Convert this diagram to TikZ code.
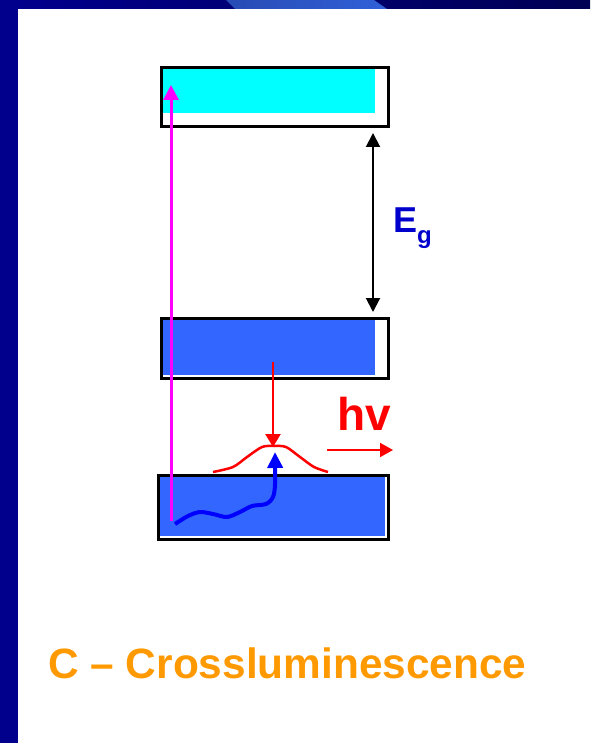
\documentclass[tikz,border=0pt]{standalone}
\usepackage{fontspec}
\setmainfont{Liberation Sans}
\usetikzlibrary{arrows.meta}
\definecolor{slidenavy}{RGB}{0,0,140}
\definecolor{bandblue}{RGB}{51,102,255}
\definecolor{bandcyan}{RGB}{0,255,255}
\definecolor{pumpmagenta}{RGB}{255,0,255}
\definecolor{egblue}{RGB}{0,0,204}
\definecolor{titleorange}{RGB}{255,153,0}
\tikzset{
  bandbox/.style={draw=black,line width=3pt,inner sep=0pt,anchor=north west},
  tipA/.style={-{Triangle[length=15pt,width=15pt]}}
}
\begin{document}
\begin{tikzpicture}[x=1pt,y=-1pt]
    \useasboundingbox (0,0) rectangle (590,743);

    % Slide frame
    \fill[slidenavy] (0,0) rectangle (18,743);
    \shade[left color=slidenavy,right color=slidenavy!60!black] (18,0) rectangle (590,9);
    \shade[left color={rgb,255:red,40;green,75;blue,180},right color={rgb,255:red,48;green,96;blue,216}]
        (226,0) -- (374,0) -- (387,9) -- (235,9) -- cycle;

    % Band fillings
    \fill[bandcyan] (161,68) rectangle (375,113);
    \fill[bandblue] (161,318) rectangle (375,375);
    \fill[bandblue] (158,475) rectangle (385,536);

    % Conduction band
    \node[bandbox,minimum width=227pt,minimum height=59pt] (cb) at (159.5,66.5) {};
    % Valence band
    \node[bandbox,minimum width=227pt,minimum height=60pt] (vb) at (159.5,316.5) {};
    % Core band
    \node[bandbox,minimum width=230pt,minimum height=64pt] (core) at (156.5,473.5) {};

    % Band gap
    \coordinate (gtop) at (373,133);
    \coordinate (gbot) at (373,312);
    \draw[line width=2pt,{Triangle[length=14pt,width=14pt]}-{Triangle[length=14pt,width=14pt]}] (gtop) -- (gbot);
    \node[anchor=base west,inner sep=0pt,text=egblue,font=\fontsize{36}{36}\selectfont\bfseries] (eg) at (393,232)
        {E\raisebox{-11pt}{\fontsize{24}{24}\selectfont g}};

    % Excitation of core hole
    \coordinate (magbot) at (171,521);
    \coordinate (magtop) at (171,85);
    \draw[pumpmagenta,line width=3pt,tipA] (magbot) -- (magtop);

    % Hole relaxation
    \coordinate (holestart) at (175,524);
    \coordinate (holeend) at (275,452);
    \draw[blue,line width=4pt,-{Triangle[length=16pt,width=15pt]}] plot[smooth] coordinates
        {(holestart) (188,516) (200,512) (213,514) (227,517) (240,512) (252,506) (266,504) (273,497) (275,484) (holeend)};

    % Radiative transition
    \coordinate (vbtop) at (273,362);
    \coordinate (vbdrop) at (273,447);
    \draw[red,line width=2.5pt,-{Triangle[length=13pt,width=15pt]}] (vbtop) -- (vbdrop);
    \draw[red,line width=2.5pt] plot[smooth] coordinates
        {(213,472) (233,467) (247,457) (262,447) (274,446) (286,447) (300,457) (314,467) (328,472)};

    % Emitted photon
    \coordinate (photonA) at (327,450);
    \coordinate (photonB) at (393,450);
    \draw[red,line width=2pt,-{Triangle[length=13pt,width=14pt]}] (photonA) -- (photonB);
    \node[anchor=base west,inner sep=0pt,text=red,font=\fontsize{46}{46}\selectfont\bfseries] (hnu) at (337,430) {hv};

    % Title
    \node[anchor=base west,inner sep=0pt,text=titleorange,font=\fontsize{42.4}{42.4}\selectfont\bfseries] (title) at (48,678)
        {C – Crossluminescence};
\end{tikzpicture}
\end{document}
